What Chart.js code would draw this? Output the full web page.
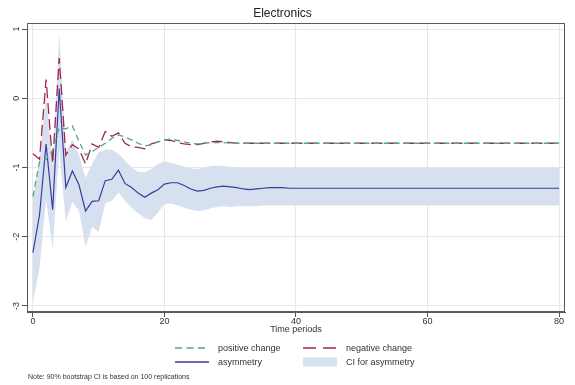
<!DOCTYPE html>
<html><head><meta charset="utf-8">
<script src="https://cdn.jsdelivr.net/npm/chart.js@4"></script>
<style>
html,body{margin:0;padding:0;background:#fff;}
#wrap{position:relative;width:575px;height:385px;font-family:"Liberation Sans",Arial,sans-serif;color:#333;}
#c{position:absolute;left:0;top:0;}
.lt{position:absolute;font-size:9px;line-height:10px;white-space:nowrap;}
.sw{position:absolute;}
#note{position:absolute;left:28px;top:373px;font-size:7px;line-height:8px;white-space:nowrap;color:#333;}
</style></head>
<body><div id="wrap">
<canvas id="c" width="575" height="385"></canvas>
<svg class="sw" style="left:175px;top:343px" width="35" height="10"><line x1="0" y1="5" x2="34" y2="5" stroke="#4caf78" stroke-width="1.4" stroke-dasharray="7,4.5"/></svg>
<div class="lt" style="left:218px;top:343px">positive change</div>
<svg class="sw" style="left:303px;top:343px" width="35" height="10"><line x1="0" y1="5" x2="34" y2="5" stroke="#a3264e" stroke-width="1.4" stroke-dasharray="13,7"/></svg>
<div class="lt" style="left:346px;top:343px">negative change</div>
<svg class="sw" style="left:175px;top:357px" width="35" height="10"><line x1="0" y1="5" x2="34" y2="5" stroke="#3a3ba0" stroke-width="1.3"/></svg>
<div class="lt" style="left:218px;top:357px">asymmetry</div>
<svg class="sw" style="left:303px;top:357px" width="35" height="10"><rect x="0" y="0.5" width="34" height="9" fill="#d7e0ee"/></svg>
<div class="lt" style="left:346px;top:357px">CI for asymmetry</div>
<div id="note">Note: 90% bootstrap CI is based on 100 replications</div>
</div>
<script>
const periods = [0,1,2,3,4,5,6,7,8,9,10,11,12,13,14,15,16,17,18,19,20,21,22,23,24,25,26,27,28,29,30,31,32,33,34,35,36,37,38,39,40,41,42,43,44,45,46,47,48,49,50,51,52,53,54,55,56,57,58,59,60,61,62,63,64,65,66,67,68,69,70,71,72,73,74,75,76,77,78,79,80];
const positiveChange = [-1.42,-0.92,-0.88,-0.75,-0.43,-0.44,-0.40,-0.62,-0.82,-0.77,-0.71,-0.65,-0.58,-0.53,-0.56,-0.60,-0.65,-0.69,-0.67,-0.63,-0.60,-0.59,-0.61,-0.63,-0.65,-0.66,-0.65,-0.64,-0.64,-0.64,-0.65,-0.65,-0.65,-0.65,-0.65,-0.65,-0.65,-0.65,-0.65,-0.65,-0.65,-0.65,-0.65,-0.65,-0.65,-0.65,-0.65,-0.65,-0.65,-0.65,-0.65,-0.65,-0.65,-0.65,-0.65,-0.65,-0.65,-0.65,-0.65,-0.65,-0.65,-0.65,-0.65,-0.65,-0.65,-0.65,-0.65,-0.65,-0.65,-0.65,-0.65,-0.65,-0.65,-0.65,-0.65,-0.65,-0.65,-0.65,-0.65,-0.65,-0.65];
const negativeChange = [-0.80,-0.88,0.27,-0.94,0.58,-0.82,-0.67,-0.73,-0.95,-0.66,-0.71,-0.48,-0.55,-0.50,-0.65,-0.70,-0.71,-0.73,-0.66,-0.63,-0.60,-0.61,-0.64,-0.66,-0.67,-0.67,-0.65,-0.63,-0.62,-0.63,-0.64,-0.65,-0.65,-0.65,-0.65,-0.65,-0.65,-0.65,-0.65,-0.65,-0.65,-0.65,-0.65,-0.65,-0.65,-0.65,-0.65,-0.65,-0.65,-0.65,-0.65,-0.65,-0.65,-0.65,-0.65,-0.65,-0.65,-0.65,-0.65,-0.65,-0.65,-0.65,-0.65,-0.65,-0.65,-0.65,-0.65,-0.65,-0.65,-0.65,-0.65,-0.65,-0.65,-0.65,-0.65,-0.65,-0.65,-0.65,-0.65,-0.65,-0.65];
const asymmetry = [-2.23,-1.69,-0.66,-1.61,0.14,-1.29,-1.05,-1.25,-1.63,-1.49,-1.48,-1.19,-1.17,-1.04,-1.23,-1.29,-1.37,-1.43,-1.37,-1.32,-1.24,-1.22,-1.22,-1.26,-1.31,-1.34,-1.33,-1.30,-1.28,-1.27,-1.28,-1.29,-1.31,-1.32,-1.31,-1.30,-1.29,-1.29,-1.29,-1.30,-1.30,-1.30,-1.30,-1.30,-1.30,-1.30,-1.30,-1.30,-1.30,-1.30,-1.30,-1.30,-1.30,-1.30,-1.30,-1.30,-1.30,-1.30,-1.30,-1.30,-1.30,-1.30,-1.30,-1.30,-1.30,-1.30,-1.30,-1.30,-1.30,-1.30,-1.30,-1.30,-1.30,-1.30,-1.30,-1.30,-1.30,-1.30,-1.30,-1.30,-1.30];
const ciUpper = [-1.45,-0.90,0.05,-1.00,0.95,-0.78,-0.60,-0.82,-1.15,-0.95,-0.78,-0.74,-0.74,-0.80,-0.90,-1.00,-1.06,-1.07,-1.02,-0.95,-0.91,-0.93,-0.96,-0.99,-1.01,-1.02,-1.00,-0.98,-0.97,-0.98,-0.99,-1.00,-1.00,-1.00,-1.00,-1.00,-1.00,-1.00,-1.00,-1.00,-1.00,-1.00,-1.00,-1.00,-1.00,-1.00,-1.00,-1.00,-1.00,-1.00,-1.00,-1.00,-1.00,-1.00,-1.00,-1.00,-1.00,-1.00,-1.00,-1.00,-1.00,-1.00,-1.00,-1.00,-1.00,-1.00,-1.00,-1.00,-1.00,-1.00,-1.00,-1.00,-1.00,-1.00,-1.00,-1.00,-1.00,-1.00,-1.00,-1.00,-1.00];
const ciLower = [-2.95,-2.45,-1.45,-2.18,-0.75,-1.78,-1.50,-1.62,-2.15,-1.86,-1.93,-1.52,-1.48,-1.36,-1.48,-1.58,-1.66,-1.73,-1.76,-1.65,-1.53,-1.52,-1.55,-1.58,-1.61,-1.63,-1.62,-1.59,-1.57,-1.56,-1.57,-1.56,-1.56,-1.56,-1.56,-1.55,-1.55,-1.55,-1.55,-1.55,-1.55,-1.55,-1.55,-1.55,-1.55,-1.55,-1.55,-1.55,-1.55,-1.55,-1.55,-1.55,-1.55,-1.55,-1.55,-1.55,-1.55,-1.55,-1.55,-1.55,-1.55,-1.55,-1.55,-1.55,-1.55,-1.55,-1.55,-1.55,-1.55,-1.55,-1.55,-1.55,-1.55,-1.55,-1.55,-1.55,-1.55,-1.55,-1.55,-1.55,-1.55];
const xTicks = [0,20,40,60,80];
const yTicks = [-3,-2,-1,0,1];

const pts = arr => periods.map((p,i)=>({x:p,y:arr[i]}));
const FONT = "'Liberation Sans', Arial, sans-serif";

const frame = {
  id:'frame',
  afterDatasetsDraw(chart){
    const a = chart.chartArea, ctx = chart.ctx;
    ctx.save(); ctx.strokeStyle='#5a5a5a'; ctx.lineWidth=1;
    ctx.strokeRect(Math.round(a.left)+0.5, Math.round(a.top)+0.5, Math.round(a.right-a.left)-1, Math.round(a.bottom-a.top)-1);
    ctx.restore();
  }
};

new Chart(document.getElementById('c'), {
  type:'line',
  data:{ datasets:[
    {label:'positive change', data:pts(positiveChange), borderColor:'#4caf78', borderWidth:1.3, borderDash:[6,4], pointRadius:0, fill:false, tension:0},
    {label:'negative change', data:pts(negativeChange), borderColor:'#a3264e', borderWidth:1.3, borderDash:[11,5], pointRadius:0, fill:false, tension:0},
    {label:'asymmetry', data:pts(asymmetry), borderColor:'#3a3ba0', borderWidth:1.2, pointRadius:0, fill:false, tension:0},
    {label:'CI upper', data:pts(ciUpper), borderWidth:0, borderColor:'rgba(0,0,0,0)', backgroundColor:'#d7e0ee', pointRadius:0, fill:'+1', tension:0},
    {label:'CI lower', data:pts(ciLower), borderWidth:0, borderColor:'rgba(0,0,0,0)', pointRadius:0, fill:false, tension:0}
  ]},
  options:{
    responsive:false, animation:false, events:[],
    layout:{padding:{left:0,right:10,top:0,bottom:49}},
    plugins:{
      legend:{display:false}, tooltip:{enabled:false},
      filler:{drawTime:'beforeDatasetsDraw'},
      title:{display:true, text:'Electronics', color:'#222', font:{family:FONT,size:12,weight:'normal'}, padding:{top:6,bottom:2.6}}
    },
    scales:{
      x:{type:'linear', min:-0.9, max:80.9,
        afterBuildTicks:s=>{s.ticks = xTicks.map(v=>({value:v}));},
        afterFit:s=>{s.height=24;},
        ticks:{font:{family:FONT,size:9}, color:'#333', padding:-1, maxRotation:0, minRotation:0},
        grid:{color:'#e8e8e8', tickColor:'#555', tickLength:5},
        border:{display:true,color:'#5a5a5a'},
        title:{display:true, text:'Time periods', color:'#333', font:{family:FONT,size:9}, padding:{top:0,bottom:0.6}}
      },
      y:{type:'linear', min:-3.087, max:1.087,
        afterBuildTicks:s=>{s.ticks = yTicks.map(v=>({value:v}));},
        afterFit:s=>{s.width=27;},
        ticks:{font:{family:FONT,size:9}, color:'#333', padding:1, minRotation:90, maxRotation:90, crossAlign:'center'},
        grid:{color:'#e8e8e8', tickColor:'#555', tickLength:5},
        border:{display:true,color:'#5a5a5a'}
      }
    }
  },
  plugins:[frame]
});
</script>
</body></html>
